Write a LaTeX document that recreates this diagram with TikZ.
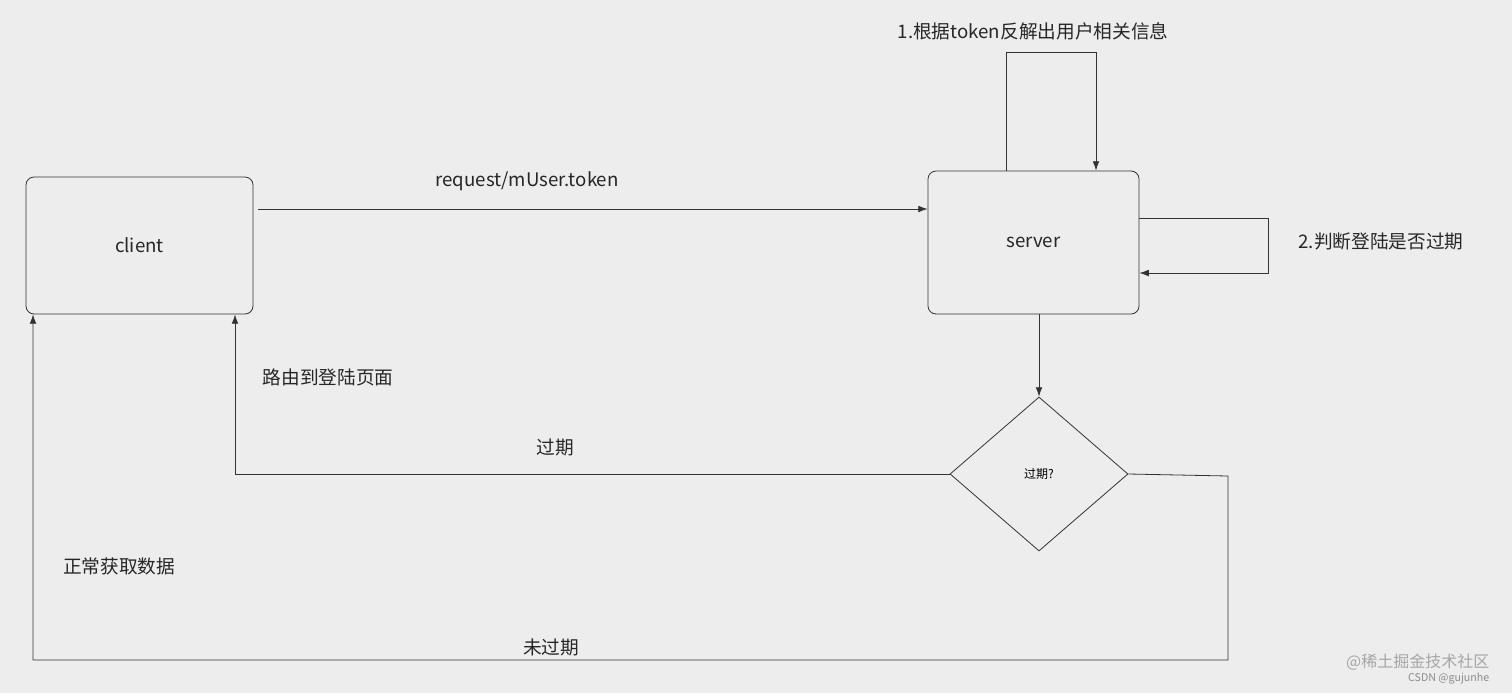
\documentclass[tikz,border=0pt]{standalone}
\usepackage{fontspec}
\setmainfont{Noto Sans CJK SC}
\usetikzlibrary{shapes.geometric,arrows.meta}
\begin{document}
\begin{tikzpicture}[x=0.75pt,y=-0.75pt,
  box/.style={draw=black!80,rounded corners=6pt,line width=0.6pt},
  ln/.style={draw=black!80,line width=0.6pt},
  arr/.style={ln,-{Latex[length=7pt,width=5pt]}},
  lbl/.style={font=\fontsize{14}{16}\selectfont,text=black!85}]
\fill[black!7] (0,0) rectangle (1512,693);
\useasboundingbox (0,0) rectangle (1512,693);
\node[box,minimum width=170.25pt,minimum height=102.75pt,lbl] (client) at (139.5,245.5) {client};
\node[box,minimum width=158.25pt,minimum height=107.25pt,lbl] (server) at (1033.5,242.5) {server};
\node[ln,diamond,aspect=1.156,minimum width=133.5pt,minimum height=115.5pt,inner sep=0pt,font=\fontsize{9}{11}\selectfont] (d) at (1039,474) {过期?};
\coordinate (c1) at (258,209);
\draw[arr] (c1) -- (server.west |- c1);
\node[lbl] (l1) at (527,181) {request/mUser.token};
\coordinate (t1) at (1006,52);
\coordinate (t2) at (1096,52);
\draw[arr] (server.north -| t1) -- (t1) -- (t2) -- (server.north -| t2);
\node[lbl] (l2) at (1033,31) {1.根据token反解出用户相关信息};
\coordinate (r1) at (1268,218);
\coordinate (r2) at (1268,273);
\draw[arr] (server.east |- r1) -- (r1) -- (r2) -- (server.east |- r2);
\node[lbl] (l3) at (1381,241) {2.判断登陆是否过期};
\draw[arr] (server.south -| d.north) -- (d.north);
\coordinate (e1) at (235,474);
\draw[arr] (d.west) -- (e1) -- (e1 |- client.south);
\node[lbl] (l4) at (555,447) {过期};
\node[lbl] (l5) at (328,377) {路由到登陆页面};
\coordinate (n1) at (1228,476);
\coordinate (n2) at (1228,660);
\coordinate (n3) at (33,660);
\draw[arr] (d.east) -- (n1) -- (n2) -- (n3) -- (n3 |- client.south);
\node[lbl] (l6) at (551,647) {未过期};
\node[lbl] (l7) at (119,566) {正常获取数据};
\node[font=\fontsize{12}{14}\selectfont,text=black!35,anchor=east] (w1) at (1494,662) {@稀土掘金技术社区};
\node[font=\fontsize{8}{10}\selectfont,text=black!45,anchor=east] (w2) at (1494,679) {CSDN @gujunhe};
\end{tikzpicture}
\end{document}
